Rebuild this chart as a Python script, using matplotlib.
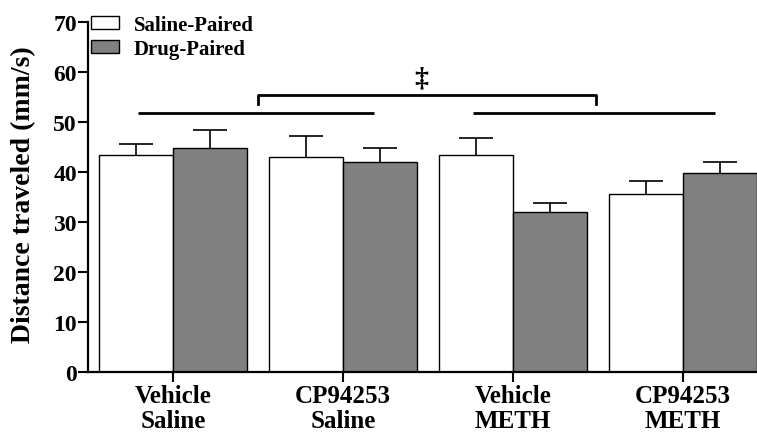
import matplotlib
matplotlib.use("Agg")
import matplotlib.pyplot as plt
import numpy as np
from matplotlib.patches import Patch

groups = ["Vehicle\nSaline", "CP94253\nSaline", "Vehicle\nMETH", "CP94253\nMETH"]
saline_paired = [43.4, 43.0, 43.5, 35.7]
saline_err = [2.2, 4.3, 3.3, 2.6]
drug_paired = [44.9, 42.1, 32.0, 39.9]
drug_err = [3.6, 2.8, 1.9, 2.2]
series_labels = ["Saline-Paired", "Drug-Paired"]

plt.rcParams['font.family'] = ['Liberation Serif', 'DejaVu Serif']
plt.rcParams['font.weight'] = 'bold'

fig = plt.figure(figsize=(7.57, 4.35), dpi=100)
ax = fig.add_axes([88/757, (435-373)/435, 1 - 88/757, (373-23.3)/435])

x = np.arange(len(groups))
w = 0.435
ax.bar(x - w/2, saline_paired, w, color='white', edgecolor='black', linewidth=1.0, zorder=2)
ax.bar(x + w/2, drug_paired, w, color='#808080', edgecolor='black', linewidth=1.0, zorder=2)

for xs, ys, es in [(x - w/2, saline_paired, saline_err), (x + w/2, drug_paired, drug_err)]:
    eb = ax.errorbar(xs, ys, yerr=[np.zeros(len(es)), es], fmt='none', ecolor='black',
                     elinewidth=1.2, capsize=12, capthick=1.2, zorder=3)
    eb[1][0].set_visible(False)

# significance lines
ax.plot([-0.206, 1.182], [51.8, 51.8], color='black', lw=2.0, solid_capstyle='butt', clip_on=False)
ax.plot([1.765, 3.188], [51.9, 51.9], color='black', lw=2.0, solid_capstyle='butt', clip_on=False)
ax.plot([0.5, 0.5, 2.49, 2.49], [53.7, 55.4, 55.4, 53.7], color='black', lw=2.0, clip_on=False)
ax.text(1.46, 58.8, "\u2021", ha='center', va='center', fontsize=20, fontweight='bold')

ax.set_xlim(-0.5, 3.435)
ax.set_ylim(0, 70)
ax.set_yticks(np.arange(0, 71, 10))
ax.set_xticks(x)
ax.set_xticklabels(groups, fontsize=18, fontweight='bold', linespacing=1.08)
ax.tick_params(axis='y', labelsize=17, width=1.5, length=7, direction='out', pad=1)
ax.tick_params(axis='x', width=1.5, length=7, direction='out', pad=2)
for lab in ax.get_yticklabels():
    lab.set_fontweight('bold')
ax.set_ylabel("Distance traveled (mm/s)", fontsize=20, fontweight='bold')
ax.yaxis.set_label_coords(-0.078, 0.51)

ax.spines['top'].set_visible(False)
ax.spines['right'].set_visible(False)
ax.spines['left'].set_linewidth(1.6)
ax.spines['bottom'].set_linewidth(1.6)

handles = [Patch(facecolor='white', edgecolor='black', linewidth=1.0),
           Patch(facecolor='#808080', edgecolor='black', linewidth=1.0)]
ax.legend(handles, series_labels, loc='upper left', bbox_to_anchor=(0.005, 1.022),
          frameon=False, prop={'family': 'Liberation Serif', 'weight': 'bold', 'size': 15},
          handlelength=1.35, handleheight=0.6, handletextpad=0.7, labelspacing=0.2,
          borderaxespad=0, borderpad=0)

fig.savefig("out.png", dpi=100)
